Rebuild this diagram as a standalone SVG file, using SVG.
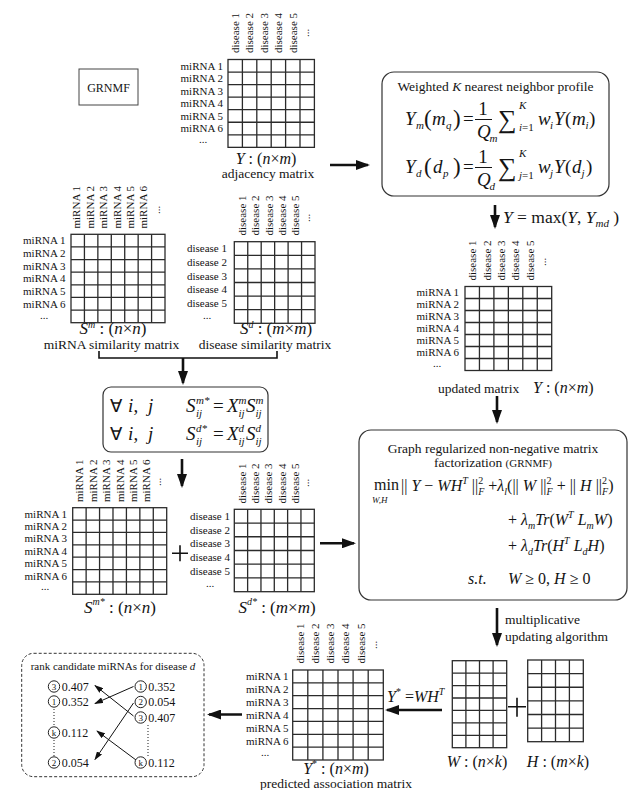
<svg xmlns="http://www.w3.org/2000/svg" width="632" height="790" viewBox="0 0 632 790">
<style>
text{font-family:"Liberation Serif","Times New Roman",serif;fill:#141414}
.l{font-size:11px}
.e{text-anchor:end}
.c{text-anchor:middle}
.i{font-style:italic}
.h{font-size:13.5px}
.m{font-size:19px}
.s{font-size:11px;font-style:italic}
.k{font-size:16px}
.k17{font-size:17px}
.g{fill:none;stroke:#2b2b2b;stroke-width:1.3}
.bx{fill:#fff;stroke:#333;stroke-width:1.2}
.ar{stroke:#111;stroke-width:2.6;fill:none;marker-end:url(#ah)}
.as{stroke:#111;stroke-width:1;fill:none;marker-end:url(#ahs)}
.br{stroke:#111;stroke-width:1.6;fill:none}
.dot{stroke:#333;stroke-width:1.1;stroke-dasharray:1 2;fill:none}
.cir{fill:#fff;stroke:#222;stroke-width:1}
.n{font-size:9px;text-anchor:middle}
.v{font-size:12px}
</style>
<defs>
<marker id="ah" markerUnits="userSpaceOnUse" markerWidth="14" markerHeight="10" refX="12" refY="5" orient="auto"><path d="M0,0 L14,5 L0,10 z" fill="#111"/></marker>
<marker id="ahs" markerUnits="userSpaceOnUse" markerWidth="9" markerHeight="6" refX="8" refY="3" orient="auto"><path d="M0,0 L9,3 L0,6 z" fill="#111"/></marker>
</defs>
<rect width="632" height="790" fill="#fff"/>

<g id="grnmf-label">
<rect x="79" y="69" width="59" height="36" fill="none" stroke="#444" stroke-width="1"/>
<text x="108.5" y="91.5" class="c" font-size="12">GRNMF</text>
</g>

<g id="adjacency">
<rect class="g" x="228" y="59.5" width="86.4" height="87.85"/>
<path class="g" d="M242.4,59.5V147.35M256.8,59.5V147.35M271.2,59.5V147.35M285.6,59.5V147.35M300,59.5V147.35M228,72.05H314.4M228,84.6H314.4M228,97.15H314.4M228,109.7H314.4M228,122.25H314.4M228,134.8H314.4"/>
<text class="l e" x="223" y="69.6">miRNA 1</text>
<text class="l e" x="223" y="82.1">miRNA 2</text>
<text class="l e" x="223" y="94.7">miRNA 3</text>
<text class="l e" x="223" y="107.2">miRNA 4</text>
<text class="l e" x="223" y="119.8">miRNA 5</text>
<text class="l e" x="223" y="132.3">miRNA 6</text>
<text class="l c" x="203" y="143">...</text>
<text class="l" transform="translate(239,53) rotate(-90)">disease 1</text>
<text class="l" transform="translate(253.4,53) rotate(-90)">disease 2</text>
<text class="l" transform="translate(267.8,53) rotate(-90)">disease 3</text>
<text class="l" transform="translate(282.2,53) rotate(-90)">disease 4</text>
<text class="l" transform="translate(296.6,53) rotate(-90)">disease 5</text>
<text class="l" transform="translate(308.5,37) rotate(-90)">...</text>
<text class="k c" x="266" y="163.5"><tspan class="i">Y</tspan> : (<tspan class="i">n</tspan>×<tspan class="i">m</tspan>)</text>
<text class="h c" x="268" y="178">adjacency matrix</text>
</g>

<g id="knn">
<rect class="bx" x="382" y="72" width="227" height="124" rx="12"/>
<text class="h c" x="495.5" y="91">Weighted <tspan class="i">K</tspan> nearest neighbor profile</text>
<text class="m i" x="405" y="125">Y</text><text class="s" x="416" y="129">m</text>
<text x="424" y="126" font-size="23">(</text>
<text class="m i" x="432" y="125">m</text><text class="s" x="446" y="129">q</text>
<text x="453" y="126" font-size="23">)</text>
<text class="m" x="463" y="125">=</text>
<text class="m c" x="483" y="115">1</text>
<path d="M475,119.5H492" stroke="#141414" stroke-width="1"/>
<text class="m i" x="477" y="138">Q</text><text class="s" x="489.5" y="141.5">m</text>
<text x="498" y="128" font-size="26">∑</text>
<text class="s" x="519" y="109">K</text>
<text x="519" y="131" font-size="11"><tspan class="i">i</tspan>=1</text>
<text class="m i" x="538" y="125">w</text><text class="s" x="550" y="129">i</text>
<text class="m i" x="554" y="125">Y</text>
<text class="m" x="565" y="125">(</text>
<text class="m i" x="572" y="125">m</text><text class="s" x="585.5" y="129">i</text>
<text class="m" x="589" y="125">)</text>

<text class="m i" x="405" y="173">Y</text><text class="s" x="416" y="177">d</text>
<text x="424" y="174" font-size="23">(</text>
<text class="m i" x="433" y="173">d</text><text class="s" x="443" y="177">p</text>
<text x="453" y="174" font-size="23">)</text>
<text class="m" x="463" y="173">=</text>
<text class="m c" x="483" y="163">1</text>
<path d="M475,167.5H492" stroke="#141414" stroke-width="1"/>
<text class="m i" x="477" y="186">Q</text><text class="s" x="489.5" y="189.5">d</text>
<text x="498" y="176" font-size="26">∑</text>
<text class="s" x="519" y="157">K</text>
<text x="519" y="179" font-size="11"><tspan class="i">j</tspan>=1</text>
<text class="m i" x="538" y="173">w</text><text class="s" x="550" y="177">j</text>
<text class="m i" x="554" y="173">Y</text>
<text class="m" x="565" y="173">(</text>
<text class="m i" x="572" y="173">d</text><text class="s" x="581.5" y="177">j</text>
<text class="m" x="586" y="173">)</text>
</g>

<g id="max-label">
<text x="503" y="223" font-size="17.5"><tspan class="i">Y</tspan> = max(<tspan class="i">Y</tspan>, <tspan class="i">Y</tspan><tspan class="i" font-size="11" dy="4">md</tspan><tspan dy="-4"> )</tspan></text>
</g>

<g id="mirna-similarity">
<rect class="g" x="71" y="234.3" width="94" height="88.4"/>
<path class="g" d="M84.43,234.3V322.7M97.86,234.3V322.7M111.29,234.3V322.7M124.72,234.3V322.7M138.15,234.3V322.7M151.58,234.3V322.7M71,246.93H165M71,259.56H165M71,272.19H165M71,284.82H165M71,297.45H165M71,310.08H165"/>
<text class="l e" x="65.5" y="244.4">miRNA 1</text>
<text class="l e" x="65.5" y="257">miRNA 2</text>
<text class="l e" x="65.5" y="269.7">miRNA 3</text>
<text class="l e" x="65.5" y="282.3">miRNA 4</text>
<text class="l e" x="65.5" y="294.9">miRNA 5</text>
<text class="l e" x="65.5" y="307.6">miRNA 6</text>
<text class="l c" x="44" y="319">...</text>
<text class="l" transform="translate(80.2,228.5) rotate(-90)">miRNA 1</text>
<text class="l" transform="translate(93.6,228.5) rotate(-90)">miRNA 2</text>
<text class="l" transform="translate(107.1,228.5) rotate(-90)">miRNA 3</text>
<text class="l" transform="translate(120.5,228.5) rotate(-90)">miRNA 4</text>
<text class="l" transform="translate(133.9,228.5) rotate(-90)">miRNA 5</text>
<text class="l" transform="translate(147.4,228.5) rotate(-90)">miRNA 6</text>
<text class="l" transform="translate(159.5,214) rotate(-90)">...</text>
<text class="k17 c" x="113" y="334"><tspan class="i">S</tspan><tspan class="i" font-size="10" dy="-6">m</tspan><tspan dy="6"> : (</tspan><tspan class="i">n</tspan>×<tspan class="i">n</tspan>)</text>
<text class="h c" x="111.5" y="348.5">miRNA similarity matrix</text>
</g>

<g id="disease-similarity">
<rect class="g" x="234.3" y="241.7" width="80.7" height="81.6"/>
<path class="g" d="M247.75,241.7V323.3M261.2,241.7V323.3M274.65,241.7V323.3M288.1,241.7V323.3M301.55,241.7V323.3M234.3,255.3H315M234.3,268.9H315M234.3,282.5H315M234.3,296.1H315M234.3,309.7H315"/>
<text class="l e" x="227" y="252.3">disease 1</text>
<text class="l e" x="227" y="265.9">disease 2</text>
<text class="l e" x="227" y="279.5">disease 3</text>
<text class="l e" x="227" y="293.1">disease 4</text>
<text class="l e" x="227" y="306.7">disease 5</text>
<text class="l c" x="207" y="319">...</text>
<text class="l" transform="translate(245.5,235.5) rotate(-90)">disease 1</text>
<text class="l" transform="translate(259,235.5) rotate(-90)">disease 2</text>
<text class="l" transform="translate(272.5,235.5) rotate(-90)">disease 3</text>
<text class="l" transform="translate(285.9,235.5) rotate(-90)">disease 4</text>
<text class="l" transform="translate(299.3,235.5) rotate(-90)">disease 5</text>
<text class="l" transform="translate(309.5,222) rotate(-90)">...</text>
<text class="k17 c" x="276" y="334"><tspan class="i">S</tspan><tspan class="i" font-size="10" dy="-6">d</tspan><tspan dy="6"> : (</tspan><tspan class="i">m</tspan>×<tspan class="i">m</tspan>)</text>
<text class="h c" x="265" y="348.5">disease similarity matrix</text>
</g>

<g id="updated">
<rect class="g" x="465" y="286.5" width="86.7" height="84"/>
<path class="g" d="M479.45,286.5V370.5M493.9,286.5V370.5M508.35,286.5V370.5M522.8,286.5V370.5M537.25,286.5V370.5M465,298.5H551.7M465,310.5H551.7M465,322.5H551.7M465,334.5H551.7M465,346.5H551.7M465,358.5H551.7"/>
<text class="l e" x="459" y="296.3">miRNA 1</text>
<text class="l e" x="459" y="308.3">miRNA 2</text>
<text class="l e" x="459" y="320.3">miRNA 3</text>
<text class="l e" x="459" y="332.3">miRNA 4</text>
<text class="l e" x="459" y="344.3">miRNA 5</text>
<text class="l e" x="459" y="356.3">miRNA 6</text>
<text class="l c" x="437" y="367">...</text>
<text class="l" transform="translate(476,280.5) rotate(-90)">disease 1</text>
<text class="l" transform="translate(490.5,280.5) rotate(-90)">disease 2</text>
<text class="l" transform="translate(504.9,280.5) rotate(-90)">disease 3</text>
<text class="l" transform="translate(519.4,280.5) rotate(-90)">disease 4</text>
<text class="l" transform="translate(533.8,280.5) rotate(-90)">disease 5</text>
<text class="l" transform="translate(545.5,266) rotate(-90)">...</text>
<text class="h" x="438" y="393">updated matrix</text>
<text class="k" x="533" y="393"><tspan class="i">Y</tspan> : (<tspan class="i">n</tspan>×<tspan class="i">m</tspan>)</text>
</g>

<g id="reweight">
<rect class="bx" x="103" y="387" width="165" height="65" rx="8"/>
<text x="110" y="412" font-size="18" font-family="'DejaVu Serif',serif">∀</text><text class="m i" x="128" y="412">i</text><text class="m" x="133.5" y="412">,</text><text class="m i" x="148" y="412">j</text>
<text class="m i" x="186" y="412">S</text><text class="s" x="196" y="404">m*</text><text class="s" x="196" y="417">ij</text>
<text class="m" x="213" y="412">=</text>
<text class="m i" x="227" y="412">X</text><text class="s" x="238.5" y="404">m</text><text class="s" x="238.5" y="417">ij</text>
<text class="m i" x="246" y="412">S</text><text class="s" x="255.5" y="404">m</text><text class="s" x="255.5" y="417">ij</text>
<text x="110" y="440" font-size="18" font-family="'DejaVu Serif',serif">∀</text><text class="m i" x="128" y="440">i</text><text class="m" x="133.5" y="440">,</text><text class="m i" x="148" y="440">j</text>
<text class="m i" x="186" y="440">S</text><text class="s" x="196" y="432">d*</text><text class="s" x="196" y="445">ij</text>
<text class="m" x="213" y="440">=</text>
<text class="m i" x="227" y="440">X</text><text class="s" x="238.5" y="432">d</text><text class="s" x="238.5" y="445">ij</text>
<text class="m i" x="246" y="440">S</text><text class="s" x="255.5" y="432">d</text><text class="s" x="255.5" y="445">ij</text>
</g>

<g id="mirna-similarity-star">
<rect class="g" x="72.7" y="507.7" width="94" height="86.6"/>
<path class="g" d="M86.13,507.7V594.3M99.56,507.7V594.3M112.99,507.7V594.3M126.42,507.7V594.3M139.85,507.7V594.3M153.28,507.7V594.3M72.7,520.07H166.7M72.7,532.44H166.7M72.7,544.81H166.7M72.7,557.18H166.7M72.7,569.55H166.7M72.7,581.92H166.7"/>
<text class="l e" x="67" y="517.7">miRNA 1</text>
<text class="l e" x="67" y="530.1">miRNA 2</text>
<text class="l e" x="67" y="542.4">miRNA 3</text>
<text class="l e" x="67" y="554.8">miRNA 4</text>
<text class="l e" x="67" y="567.2">miRNA 5</text>
<text class="l e" x="67" y="579.5">miRNA 6</text>
<text class="l c" x="45" y="590">...</text>
<text class="l" transform="translate(83.2,502) rotate(-90)">miRNA 1</text>
<text class="l" transform="translate(96.6,502) rotate(-90)">miRNA 2</text>
<text class="l" transform="translate(110.1,502) rotate(-90)">miRNA 3</text>
<text class="l" transform="translate(123.5,502) rotate(-90)">miRNA 4</text>
<text class="l" transform="translate(136.9,502) rotate(-90)">miRNA 5</text>
<text class="l" transform="translate(150.4,502) rotate(-90)">miRNA 6</text>
<text class="l" transform="translate(161,486) rotate(-90)">...</text>
<text class="k17 c" x="120" y="613"><tspan class="i">S</tspan><tspan class="i" font-size="10" dy="-8">m*</tspan><tspan dy="8"> : (</tspan><tspan class="i">n</tspan>×<tspan class="i">n</tspan>)</text>
</g>

<g id="plus-1">
<path class="br" d="M172,553.3H188M180,545.3V561.3" stroke-width="1.3"/>
</g>

<g id="disease-similarity-star">
<rect class="g" x="234.3" y="509.3" width="80" height="82.4"/>
<path class="g" d="M247.63,509.3V591.7M260.96,509.3V591.7M274.29,509.3V591.7M287.62,509.3V591.7M300.95,509.3V591.7M234.3,523.03H314.3M234.3,536.76H314.3M234.3,550.49H314.3M234.3,564.22H314.3M234.3,577.95H314.3"/>
<text class="l e" x="230" y="520">disease 1</text>
<text class="l e" x="230" y="533.7">disease 2</text>
<text class="l e" x="230" y="547.4">disease 3</text>
<text class="l e" x="230" y="561.2">disease 4</text>
<text class="l e" x="230" y="574.9">disease 5</text>
<text class="l c" x="210" y="587">...</text>
<text class="l" transform="translate(245.5,503.5) rotate(-90)">disease 1</text>
<text class="l" transform="translate(258.8,503.5) rotate(-90)">disease 2</text>
<text class="l" transform="translate(272.1,503.5) rotate(-90)">disease 3</text>
<text class="l" transform="translate(285.5,503.5) rotate(-90)">disease 4</text>
<text class="l" transform="translate(298.8,503.5) rotate(-90)">disease 5</text>
<text class="l" transform="translate(309,487) rotate(-90)">...</text>
<text class="k17 c" x="277" y="613"><tspan class="i">S</tspan><tspan class="i" font-size="10" dy="-8">d*</tspan><tspan dy="8"> : (</tspan><tspan class="i">m</tspan>×<tspan class="i">m</tspan>)</text>
</g>

<g id="grnmf-model">
<rect class="bx" x="359" y="430" width="268" height="170" rx="12"/>
<text class="h c" x="493" y="453">Graph regularized non-negative matrix</text>
<text class="h c" x="493" y="467">factorization <tspan font-size="11">(GRNMF)</tspan></text>
<text class="k" x="374" y="490">min</text>
<text x="372" y="503" font-size="9" class="i">W,H</text>
<text class="k" x="401" y="491">|| <tspan class="i">Y</tspan> − <tspan class="i">WH</tspan><tspan class="i" font-size="10" dy="-7">T</tspan><tspan dy="7"> ||</tspan><tspan font-size="10" dy="-7">2</tspan><tspan class="i" font-size="10" dx="-5" dy="11">F</tspan><tspan dy="-4"> +</tspan><tspan class="i">λ</tspan><tspan class="i" font-size="10" dy="4">l</tspan><tspan dy="-4">(|| </tspan><tspan class="i">W</tspan> ||<tspan font-size="10" dy="-7">2</tspan><tspan class="i" font-size="10" dx="-5" dy="11">F</tspan><tspan dy="-4"> + || </tspan><tspan class="i">H</tspan> ||<tspan font-size="10" dy="-7">2</tspan><tspan class="i" font-size="10" dx="-5" dy="11">F</tspan><tspan dy="-4">)</tspan></text>
<text class="k" x="508" y="525">+ <tspan class="i">λ</tspan><tspan class="i" font-size="10" dy="4">m</tspan><tspan class="i" dy="-4">Tr</tspan>(<tspan class="i">W</tspan><tspan class="i" font-size="10" dy="-7">T</tspan><tspan class="i" dy="7"> L</tspan><tspan class="i" font-size="10" dy="4">m</tspan><tspan class="i" dy="-4">W</tspan>)</text>
<text class="k" x="508" y="551">+ <tspan class="i">λ</tspan><tspan class="i" font-size="10" dy="4">d</tspan><tspan class="i" dy="-4">Tr</tspan>(<tspan class="i">H</tspan><tspan class="i" font-size="10" dy="-7">T</tspan><tspan class="i" dy="7"> L</tspan><tspan class="i" font-size="10" dy="4">d</tspan><tspan class="i" dy="-4">H</tspan>)</text>
<text class="k i" x="468" y="584">s.t.</text>
<text class="k" x="508" y="584"><tspan class="i">W</tspan> ≥ 0, <tspan class="i">H</tspan> ≥ 0</text>
</g>

<g id="algo-label">
<text class="h" x="505" y="624">multiplicative</text>
<text class="h" x="505" y="641">updating algorithm</text>
</g>

<g id="w-matrix">
<rect class="g" x="452.3" y="660.7" width="54.4" height="87"/>
<path class="g" d="M465.9,660.7V747.7M479.5,660.7V747.7M493.1,660.7V747.7M452.3,673.13H506.7M452.3,685.56H506.7M452.3,697.99H506.7M452.3,710.42H506.7M452.3,722.85H506.7M452.3,735.28H506.7"/>
<text class="k c" x="477" y="767"><tspan class="i">W</tspan> : (<tspan class="i">n</tspan>×<tspan class="i">k</tspan>)</text>
</g>

<g id="plus-2">
<path class="br" d="M508,706.7H526M517,697.7V716.7" stroke-width="1.3"/>
</g>

<g id="h-matrix">
<rect class="g" x="527.7" y="660" width="55.6" height="81.7"/>
<path class="g" d="M541.6,660V741.7M555.5,660V741.7M569.4,660V741.7M527.7,673.62H583.3M527.7,687.24H583.3M527.7,700.86H583.3M527.7,714.48H583.3M527.7,728.1H583.3"/>
<text class="k c" x="558" y="767"><tspan class="i">H</tspan> : (<tspan class="i">m</tspan>×<tspan class="i">k</tspan>)</text>
</g>

<g id="product-label">
<text class="k" x="387" y="702"><tspan class="i">Y</tspan><tspan font-size="10" dy="-7">*</tspan><tspan dy="7"> =</tspan><tspan class="i">WH</tspan><tspan class="i" font-size="10" dy="-7">T</tspan></text>
</g>

<g id="predicted">
<rect class="g" x="292.7" y="670" width="90.6" height="90"/>
<path class="g" d="M307.8,670V760M322.9,670V760M338,670V760M353.1,670V760M368.2,670V760M292.7,682.86H383.3M292.7,695.72H383.3M292.7,708.58H383.3M292.7,721.44H383.3M292.7,734.3H383.3M292.7,747.16H383.3"/>
<text class="l e" x="288.5" y="680.2">miRNA 1</text>
<text class="l e" x="288.5" y="693.1">miRNA 2</text>
<text class="l e" x="288.5" y="705.9">miRNA 3</text>
<text class="l e" x="288.5" y="718.8">miRNA 4</text>
<text class="l e" x="288.5" y="731.7">miRNA 5</text>
<text class="l e" x="288.5" y="744.5">miRNA 6</text>
<text class="l c" x="265" y="756">...</text>
<text class="l" transform="translate(304,663.5) rotate(-90)">disease 1</text>
<text class="l" transform="translate(319.2,663.5) rotate(-90)">disease 2</text>
<text class="l" transform="translate(334.3,663.5) rotate(-90)">disease 3</text>
<text class="l" transform="translate(349.4,663.5) rotate(-90)">disease 4</text>
<text class="l" transform="translate(364.5,663.5) rotate(-90)">disease 5</text>
<text class="l" transform="translate(377,649) rotate(-90)">...</text>
<text class="k c" x="336" y="773.5"><tspan class="i">Y</tspan><tspan font-size="10" dy="-7">*</tspan><tspan dy="7"> : (</tspan><tspan class="i">n</tspan>×<tspan class="i">m</tspan>)</text>
<text class="h c" x="336" y="787.5">predicted association matrix</text>
</g>

<g id="ranking">
<rect x="21.7" y="653.3" width="182.3" height="123.4" rx="12" fill="none" stroke="#333" stroke-width="1" stroke-dasharray="3 2"/>
<text class="l c" x="113" y="670">rank candidate miRNAs for disease <tspan class="i">d</tspan></text>
<circle class="cir" cx="54" cy="686.5" r="5.7"/><text class="n" x="54" y="689.5">3</text><text class="v" x="61.7" y="690.5">0.407</text>
<circle class="cir" cx="54" cy="701.5" r="5.7"/><text class="n" x="54" y="704.5">1</text><text class="v" x="61.7" y="705.5">0.352</text>
<path class="dot" d="M54,709V726"/>
<circle class="cir" cx="54" cy="732.5" r="5.7"/><text class="n" x="54" y="735.5">k</text><text class="v" x="61.7" y="736.5">0.112</text>
<path class="dot" d="M54,740V756"/>
<circle class="cir" cx="54" cy="762.5" r="5.7"/><text class="n" x="54" y="765.5">2</text><text class="v" x="61.7" y="766.5">0.054</text>
<circle class="cir" cx="140.7" cy="686.5" r="5.7"/><text class="n" x="140.7" y="689.5">1</text><text class="v" x="148.3" y="690.5">0.352</text>
<circle class="cir" cx="140.7" cy="702" r="5.7"/><text class="n" x="140.7" y="705">2</text><text class="v" x="148.3" y="706">0.054</text>
<circle class="cir" cx="140.7" cy="717.5" r="5.7"/><text class="n" x="140.7" y="720.5">3</text><text class="v" x="148.3" y="721.5">0.407</text>
<path class="dot" d="M148,725V756"/>
<circle class="cir" cx="140.7" cy="762.5" r="5.7"/><text class="n" x="140.7" y="765.5">k</text><text class="v" x="148.3" y="766.5">0.112</text>
<line class="as" x1="133.5" y1="686.5" x2="95" y2="703.5"/>
<line class="as" x1="133.5" y1="703" x2="95" y2="759.5"/>
<line class="as" x1="133.5" y1="716" x2="95" y2="685.5"/>
<line class="as" x1="136" y1="760" x2="97" y2="731"/>
</g>

<g id="connectors">
<line class="ar" x1="330" y1="165" x2="368" y2="165"/>
<line class="ar" x1="495" y1="205" x2="495" y2="227"/>
<line class="ar" x1="497" y1="396" x2="497" y2="422"/>
<path class="br" d="M99,351V358H277V351"/>
<line class="ar" x1="183" y1="358" x2="183" y2="383"/>
<line class="ar" x1="182" y1="459" x2="182" y2="486"/>
<line class="ar" x1="320" y1="543.3" x2="354" y2="543.3"/>
<line class="ar" x1="497" y1="608" x2="497" y2="645"/>
<line class="ar" x1="442" y1="710" x2="387" y2="710"/>
<line class="ar" x1="242" y1="714.5" x2="209" y2="714.5"/>
</g>
</svg>
